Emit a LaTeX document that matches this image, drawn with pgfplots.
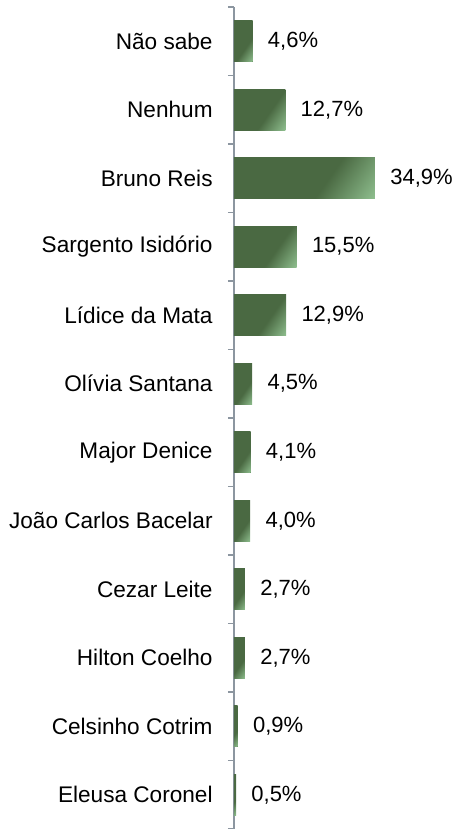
\documentclass[border=0pt]{standalone}
\usepackage{fontspec}
\setmainfont{Liberation Sans}
\usepackage{pgfplots}
\pgfplotsset{compat=1.18}
\definecolor{barDark}{HTML}{4A6942}
\definecolor{barLight}{HTML}{A3D8A5}
\definecolor{axGrey}{HTML}{8C96A0}
\pgfdeclarehorizontalshading{barshade}{100bp}{color(0bp)=(barDark); color(60bp)=(barDark); color(92bp)=(barLight); color(100bp)=(barLight)}
\pgfplotsset{gbar/.style={draw=none, fill=barDark, shading=barshade, shading angle=-35, bar shift=0pt}}

\begin{document}
\fontsize{11}{13}\selectfont
\begin{tikzpicture}
\begin{axis}[
  scale only axis,
  width=111.5pt, height=411pt,
  xmin=0, xmax=55.2,
  ymin=-0.5, ymax=11.5,
  y dir=reverse,
  axis x line=none,
  axis y line=left,
  axis line style={-,axGrey,line width=1pt},
  ytick={0,...,11},
  yticklabels={Não sabe,Nenhum,Bruno Reis,Sargento Isidório,Lídice da Mata,Olívia Santana,Major Denice,João Carlos Bacelar,Cezar Leite,Hilton Coelho,Celsinho Cotrim,Eleusa Coronel},
  minor ytick={-0.5,0.5,...,11.5},
  major tick length=0pt,
  minor tick length=3pt,
  tick align=outside,
  ytick pos=left,
  minor tick style={axGrey,line width=0.8pt},
  yticklabel style={font=\fontsize{11.3}{13}\selectfont,anchor=east,inner sep=0pt,xshift=-10.5pt},
  xbar, bar width=0.6,
  point meta=x,
  nodes near coords={\pgfmathprintnumber[fixed,fixed zerofill,precision=1,use comma]{\pgfplotspointmeta}\%},
  every node near coord/.append style={font=\fontsize{11}{13}\selectfont,anchor=west,inner sep=0pt,xshift=7.5pt,/pgf/number format/assume math mode=true},
  clip=false,
]
\addplot[gbar] coordinates {(4.6,0)};
\addplot[gbar] coordinates {(12.7,1)};
\addplot[gbar] coordinates {(34.9,2)};
\addplot[gbar] coordinates {(15.5,3)};
\addplot[gbar] coordinates {(12.9,4)};
\addplot[gbar] coordinates {(4.5,5)};
\addplot[gbar] coordinates {(4.1,6)};
\addplot[gbar] coordinates {(4.0,7)};
\addplot[gbar] coordinates {(2.7,8)};
\addplot[gbar] coordinates {(2.7,9)};
\addplot[gbar] coordinates {(0.9,10)};
\addplot[gbar] coordinates {(0.5,11)};
\end{axis}
\pgfresetboundingbox
\path[use as bounding box] ([xshift=-117pt]current axis.south west) rectangle ([yshift=3.5pt]current axis.north east);
\end{tikzpicture}
\end{document}
